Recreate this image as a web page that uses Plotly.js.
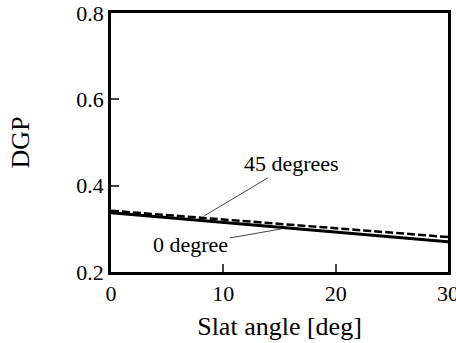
<!DOCTYPE html>
<html><head><meta charset="utf-8">
<script src="https://cdn.plot.ly/plotly-3.0.1.min.js"></script>
<style>html,body{margin:0;padding:0;background:#fff}#c{width:456px;height:343px}.modebar-container{display:none !important}</style>
</head><body><div id="c"></div>
<script>
const slatAngle = [0, 5, 10, 15, 20, 25, 30];
const dgp0 = [0.337, 0.326, 0.315, 0.303, 0.292, 0.281, 0.270];
const dgp45 = [0.342, 0.332, 0.322, 0.311, 0.301, 0.291, 0.281];
const xTicks = [0, 10, 20, 30];
const yTicks = [0.2, 0.4, 0.6, 0.8];
const labels = ['0 degree', '45 degrees'];

const traces = [
  {x: slatAngle, y: dgp0, mode: 'lines', line: {color: '#000', width: 3}, name: labels[0]},
  {x: slatAngle, y: dgp45, mode: 'lines', line: {color: '#000', width: 2.5, dash: '8px,3px'}, name: labels[1]}
];
const layout = {
  width: 456, height: 343,
  margin: {l: 111, r: 8, t: 13, b: 71},
  showlegend: false,
  font: {family: 'Liberation Serif', size: 22, color: '#000'},
  xaxis: {range: [0, 30], tickvals: xTicks, ticks: 'inside', ticklen: 8, tickwidth: 2,
    ticklabeloverflow: 'allow',
    showline: true, linewidth: 2.5, linecolor: '#000', mirror: true, showgrid: false, zeroline: false,
    title: {text: 'Slat angle [deg]', standoff: 12}},
  yaxis: {range: [0.2, 0.8], tickvals: yTicks, tickformat: '.1f', ticks: 'inside', ticklen: 8, tickwidth: 2,
    ticklabeloverflow: 'allow',
    showline: true, linewidth: 2.5, linecolor: '#000', mirror: true, showgrid: false, zeroline: false,
    title: {text: 'DGP', standoff: 40}},
  annotations: [
    {x: 15.2, y: 0.300, xref: 'x', yref: 'y', text: labels[0], showarrow: true, arrowhead: 0, arrowwidth: 1,
      ax: -91, ay: 16, xanchor: 'center', yanchor: 'middle'},
    {x: 8.3, y: 0.330, xref: 'x', yref: 'y', text: labels[1], showarrow: true, arrowhead: 0, arrowwidth: 1,
      ax: 87, ay: -52, xanchor: 'center', yanchor: 'middle'}
  ]
};
Plotly.newPlot('c', traces, layout);
</script></body></html>
